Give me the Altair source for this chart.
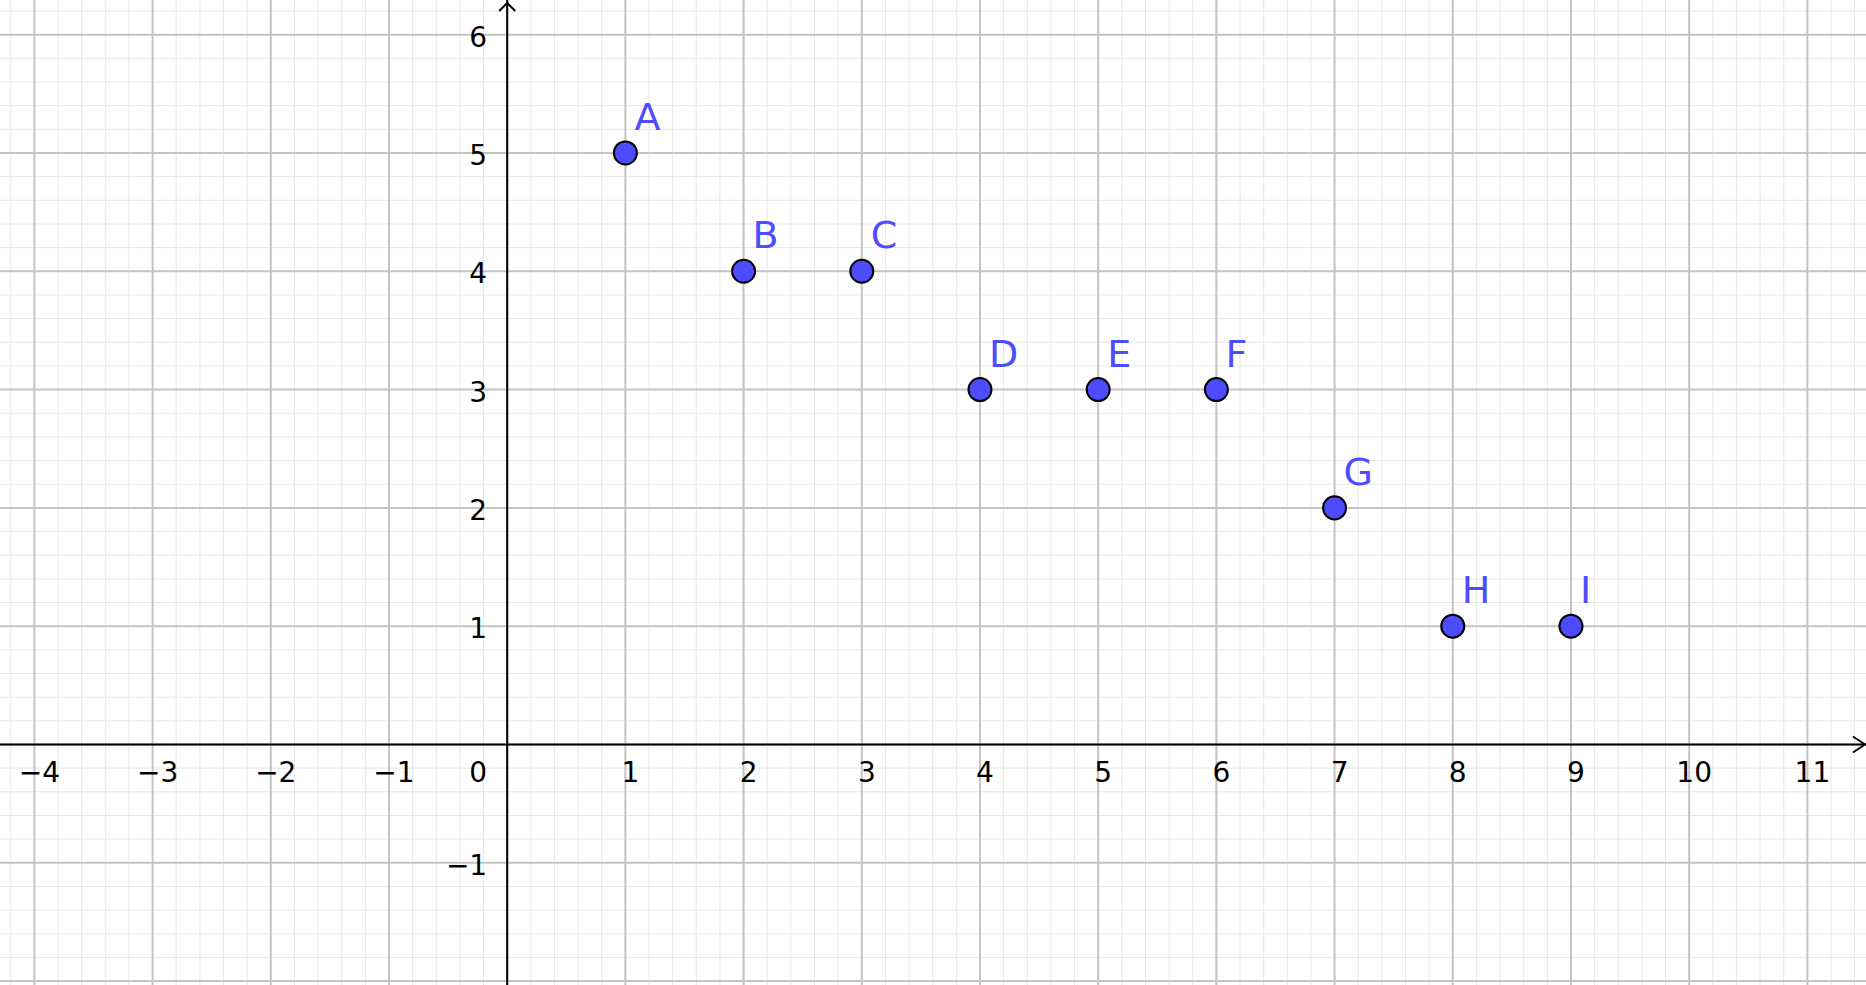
import altair as alt
import pandas as pd

# ---- data -------------------------------------------------------------
point_names = ["A", "B", "C", "D", "E", "F", "G", "H", "I"]
point_x = [1, 2, 3, 4, 5, 6, 7, 8, 9]
point_y = [5, 4, 4, 3, 3, 3, 2, 1, 1]

x_tick_values = [-4, -3, -2, -1, 1, 2, 3, 4, 5, 6, 7, 8, 9, 10, 11]
x_tick_labels = ["−4", "−3", "−2", "−1", "1", "2", "3", "4", "5", "6",
                 "7", "8", "9", "10", "11"]
y_tick_values = [-1, 1, 2, 3, 4, 5, 6]
y_tick_labels = ["−1", "1", "2", "3", "4", "5", "6"]
origin_label = ["0"]

x_major = list(range(-4, 12))
y_major = list(range(-2, 7))
x_minor = [round(i * 0.2, 1) for i in range(-21, 58)]
y_minor = [round(i * 0.2, 1) for i in range(-10, 32)]

# ---- view -------------------------------------------------------------
X_DOMAIN = [-4.291, 11.496]
Y_DOMAIN = [-2.033, 6.293]
X_TIP = 11.487
Y_TIP = 6.268

xs = alt.Scale(domain=X_DOMAIN, nice=False, zero=False)
ys = alt.Scale(domain=Y_DOMAIN, nice=False, zero=False)

FONT = "DejaVu Sans"
BLUE = "#4d4dff"

minor_v = alt.Chart(pd.DataFrame({"v": x_minor})).mark_rule(
    color="#e6e6e6", strokeWidth=1
).encode(x=alt.X("v:Q", scale=xs, axis=None))
minor_h = alt.Chart(pd.DataFrame({"v": y_minor})).mark_rule(
    color="#e6e6e6", strokeWidth=1
).encode(y=alt.Y("v:Q", scale=ys, axis=None))
major_v = alt.Chart(pd.DataFrame({"v": x_major})).mark_rule(
    color="#c4c4c4", strokeWidth=2
).encode(x=alt.X("v:Q", scale=xs, axis=None))
major_h = alt.Chart(pd.DataFrame({"v": y_major})).mark_rule(
    color="#c4c4c4", strokeWidth=2
).encode(y=alt.Y("v:Q", scale=ys, axis=None))

axis_x = alt.Chart(pd.DataFrame({"v": [0]})).mark_rule(
    color="black", strokeWidth=2
).encode(y=alt.Y("v:Q", scale=ys, axis=None))
axis_y = alt.Chart(pd.DataFrame({"v": [0]})).mark_rule(
    color="black", strokeWidth=2
).encode(x=alt.X("v:Q", scale=xs, axis=None))

arrow_x = alt.Chart(pd.DataFrame({"x": [X_TIP], "y": [0]})).mark_point(
    shape="M -1.5 -1 L 0 0 L -1.5 1", filled=False, stroke="black",
    strokeWidth=2, size=256, opacity=1
).encode(x=alt.X("x:Q", scale=xs, axis=None), y=alt.Y("y:Q", scale=ys, axis=None))
arrow_y = alt.Chart(pd.DataFrame({"x": [0], "y": [Y_TIP]})).mark_point(
    shape="M -1 1 L 0 0 L 1 1", filled=False, stroke="black",
    strokeWidth=2, size=256, opacity=1
).encode(x=alt.X("x:Q", scale=xs, axis=None), y=alt.Y("y:Q", scale=ys, axis=None))

xdf = pd.DataFrame({"x": x_tick_values, "y": [0] * len(x_tick_values), "t": x_tick_labels})
x_labels = alt.Chart(xdf).mark_text(
    font=FONT, fontSize=28, align="center", baseline="alphabetic",
    dx=5, dy=38, color="black"
).encode(x=alt.X("x:Q", scale=xs, axis=None), y=alt.Y("y:Q", scale=ys, axis=None), text="t:N")

ydf = pd.DataFrame({"x": [0] * len(y_tick_values), "y": y_tick_values, "t": y_tick_labels})
y_labels = alt.Chart(ydf).mark_text(
    font=FONT, fontSize=28, align="right", baseline="alphabetic",
    dx=-20, dy=12, color="black"
).encode(x=alt.X("x:Q", scale=xs, axis=None), y=alt.Y("y:Q", scale=ys, axis=None), text="t:N")

odf = pd.DataFrame({"x": [0], "y": [0], "t": origin_label})
o_label = alt.Chart(odf).mark_text(
    font=FONT, fontSize=28, align="right", baseline="alphabetic",
    dx=-20, dy=38, color="black"
).encode(x=alt.X("x:Q", scale=xs, axis=None), y=alt.Y("y:Q", scale=ys, axis=None), text="t:N")

pdf = pd.DataFrame({"x": point_x, "y": point_y, "name": point_names})
points = alt.Chart(pdf).mark_circle(
    fill=BLUE, color=BLUE, stroke="black", strokeWidth=2, size=530, opacity=1
).encode(x=alt.X("x:Q", scale=xs, axis=None), y=alt.Y("y:Q", scale=ys, axis=None))
p_labels = alt.Chart(pdf).mark_text(
    font=FONT, fontSize=38, align="left", baseline="alphabetic",
    dx=9, dy=-23, color=BLUE
).encode(x=alt.X("x:Q", scale=xs, axis=None), y=alt.Y("y:Q", scale=ys, axis=None), text="name:N")

chart = alt.layer(
    minor_v, minor_h, major_v, major_h, axis_x, axis_y, arrow_x, arrow_y,
    x_labels, y_labels, o_label, points, p_labels
).properties(
    width=1866, height=985, padding=0,
    autosize=alt.AutoSizeParams(type="none"),
    background="white"
).configure_view(stroke=None)

chart.save("out.html", embed_options={"renderer": "svg", "actions": False})
